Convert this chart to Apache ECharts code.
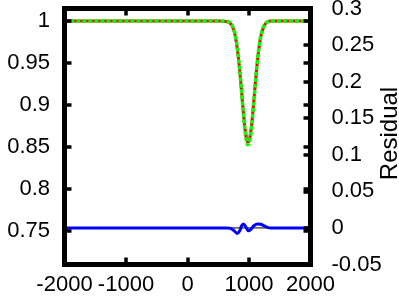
<!DOCTYPE html>
<html>
<head>
<meta charset="utf-8">
<script src="https://cdn.jsdelivr.net/npm/echarts@6/dist/echarts.min.js"></script>
<style>
html,body{margin:0;padding:0;background:#fff;}
#c{width:399px;height:296px;}
</style>
</head>
<body>
<div id="c"></div>
<script>
// x positions (same for data and fit)
const xs = [-2000, 500, 650, 700, 725, 750, 775, 800, 825, 850, 875, 900, 925, 950, 975, 1000, 1025, 1050, 1075, 1100, 1125, 1150, 1175, 1200, 1250, 1300, 1350, 1400, 2000];
// measured data (green dashed)
const dataVals = [1, 1, 0.9995, 0.9975, 0.9950, 0.9907, 0.9837, 0.9733, 0.9589, 0.9405, 0.9192, 0.8968, 0.8764, 0.8607, 0.8527, 0.8536, 0.8634, 0.8801, 0.9013, 0.9236, 0.9445, 0.9620, 0.9757, 0.9853, 0.9956, 0.9990, 1, 1, 1];
// fit (red solid)
const fitVals = [1, 1, 0.9993, 0.9970, 0.9943, 0.9898, 0.9826, 0.9722, 0.9580, 0.9402, 0.9197, 0.8980, 0.8785, 0.8635, 0.8560, 0.8568, 0.8660, 0.8818, 0.9020, 0.9235, 0.9438, 0.9610, 0.9746, 0.9843, 0.9950, 0.9988, 1, 1, 1];
// residual (blue)
const resX = [-2000, 650, 700, 760, 810, 850, 880, 910, 950, 990, 1030, 1080, 1140, 1190, 1240, 1300, 1350, 2000];
const resVals = [0, 0, -0.0005, -0.004, -0.0075, -0.004, 0.003, 0.0055, 0.001, -0.004, -0.002, 0.003, 0.0055, 0.005, 0.003, 0.0008, 0, 0];
// tick labels
const xTicks = [-2000, -1000, 0, 1000, 2000];
const leftTicks = [0.75, 0.8, 0.85, 0.9, 0.95, 1];

const F = "'Liberation Sans', Arial, Helvetica, sans-serif";
const FS = 22;
const pair = (a, b) => a.map((v, i) => [v, b[i]]);
const tick = {show: true, inside: true, length: 7, lineStyle: {color: '#000', width: 3.5}};
const line = {show: true, onZero: false, lineStyle: {color: '#000', width: 5, cap: 'square'}};
const fmt = v => String(+v.toFixed(4));

const chart = echarts.init(document.getElementById('c'), null, {renderer: 'canvas'});
chart.setOption({
  animation: false,
  backgroundColor: '#fff',
  grid: {left: 64.5, right: 88.5, top: 8.5, bottom: 31.5, show: false, outerBoundsMode: 'none', containLabel: false},
  xAxis: [
    {type: 'value', position: 'bottom', min: -2000, max: 2000, interval: 1000, z: 10,
     axisLine: line, splitLine: {show: false}, axisTick: Object.assign({customValues: xTicks}, tick),
     axisLabel: {customValues: xTicks, formatter: fmt, color: '#000', fontSize: FS, fontFamily: F, margin: 9}},
    {type: 'value', position: 'top', min: -2000, max: 2000, interval: 1000, z: 10,
     axisLine: line, splitLine: {show: false}, axisTick: Object.assign({customValues: xTicks}, tick), axisLabel: {show: false}}
  ],
  yAxis: [
    {type: 'value', position: 'left', min: 0.71, max: 1.015, z: 10,
     axisLine: line, splitLine: {show: false},
     axisTick: Object.assign({customValues: leftTicks}, tick),
     axisLabel: {customValues: leftTicks, formatter: fmt, color: '#000', fontSize: FS, fontFamily: F, margin: 14.5}},
    {type: 'value', position: 'right', min: -0.05, max: 0.3, interval: 0.05, z: 10,
     name: 'Residual', nameLocation: 'middle', nameRotate: 90, nameGap: 68, nameMoveOverlap: false,
     nameTextStyle: {color: '#000', fontSize: 24, fontFamily: F, padding: [0, 0, 0, 6]},
     axisLine: line, splitLine: {show: false}, axisTick: tick,
     axisLabel: {formatter: fmt, color: '#000', fontSize: FS, fontFamily: F, margin: 21, showMinLabel: true, showMaxLabel: true}},
    {type: 'value', position: 'right', min: 0.71, max: 1.015, z: 10,
     axisLine: {show: false, onZero: false}, splitLine: {show: false},
     axisTick: Object.assign({customValues: leftTicks}, tick),
     axisLabel: {show: false}}
  ],
  series: [
    {type: 'line', xAxisIndex: 0, yAxisIndex: 1, data: [[-2000, 0], [2000, 0]], showSymbol: false,
     lineStyle: {color: '#000', width: 1}, z: 1},
    {type: 'line', xAxisIndex: 0, yAxisIndex: 1, data: pair(resX, resVals), showSymbol: false, smooth: 0.3,
     lineStyle: {color: '#0000ff', width: 3}, z: 2},
    {type: 'line', xAxisIndex: 0, yAxisIndex: 0, data: pair(xs, fitVals), showSymbol: false, smooth: 0.2,
     lineStyle: {color: '#ff0000', width: 3}, z: 3},
    {type: 'line', xAxisIndex: 0, yAxisIndex: 0, data: pair(xs, dataVals), showSymbol: false, smooth: 0.2,
     lineStyle: {color: '#00ff00', width: 3.5, type: [4, 2]}, z: 4}
  ]
});
</script>
</body>
</html>
